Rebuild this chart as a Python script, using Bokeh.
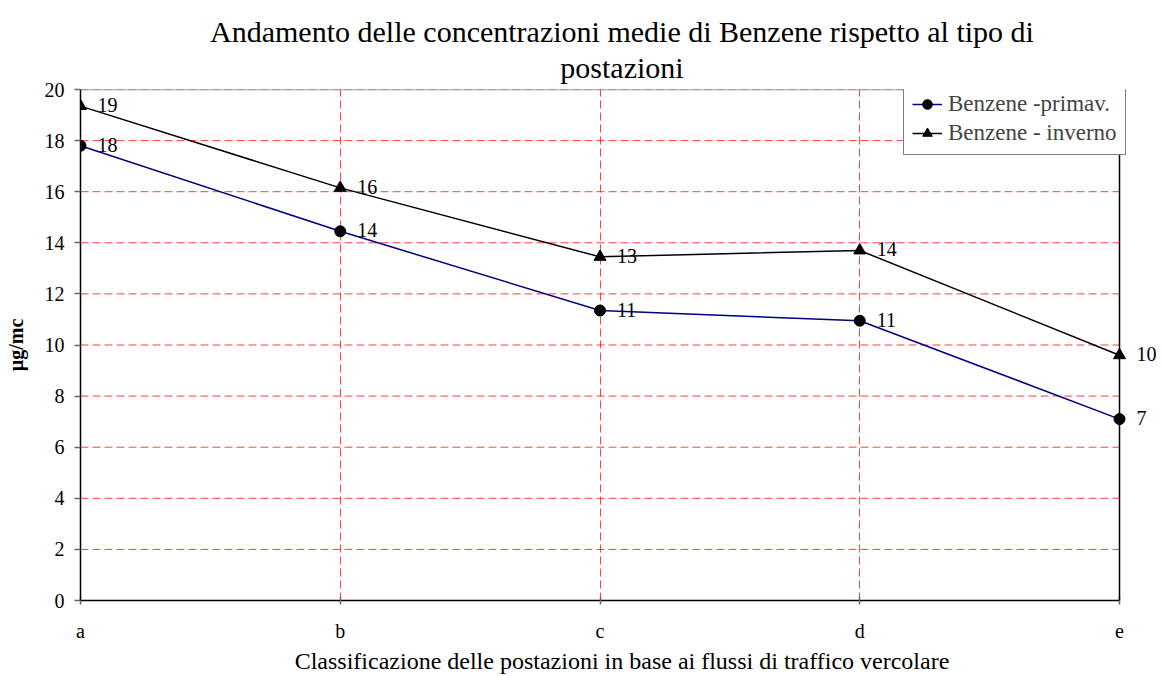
from bokeh.plotting import figure
from bokeh.models import (Range1d, FixedTicker, Span, Title, Legend, LegendItem,
                          LabelSet, ColumnDataSource)
from bokeh.embed import file_html
from bokeh.resources import INLINE

categories = ["a", "b", "c", "d", "e"]
primav = [17.8, 14.45, 11.35, 10.95, 7.1]
inverno = [19.35, 16.15, 13.45, 13.7, 9.6]
primav_labels = ["18", "14", "11", "11", "7"]
inverno_labels = ["19", "16", "13", "14", "10"]
y_ticks = [0, 2, 4, 6, 8, 10, 12, 14, 16, 18, 20]
title_line1 = "Andamento delle concentrazioni medie di Benzene rispetto al tipo di"
title_line2 = "postazioni"
x_label = "Classificazione delle postazioni in base ai flussi di traffico vercolare"
y_label = "µg/mc"

FONT = "Liberation Serif"
xs = list(range(len(categories)))
x_last = len(categories) - 1
# extra room to the right of the last category, so the value labels are not clipped
x_pad = 44 / 259.75

p = figure(width=1163, height=676, output_backend="svg", toolbar_location=None,
           x_range=Range1d(0, x_last + x_pad), y_range=Range1d(0, 20),
           min_border_left=80, min_border_right=0, min_border_top=89,
           min_border_bottom=76)
p.outline_line_color = None
p.background_fill_color = "white"

# two-line title
p.title = None
p.add_layout(Title(text=title_line1 + "\n" + title_line2, align="center",
                   text_align="center", text_font=FONT,
                   text_font_size="30px", text_font_style="normal",
                   text_line_height=1.1,
                   text_color="black", standoff=10), "above")

# axes
p.xaxis.ticker = FixedTicker(ticks=xs)
p.xaxis.bounds = (0, x_last)
p.xaxis.major_label_overrides = {i: c for i, c in enumerate(categories)}
p.yaxis.ticker = FixedTicker(ticks=y_ticks)
for ax in (p.xaxis[0], p.yaxis[0]):
    ax.axis_line_color = "black"
    ax.axis_line_width = 1.5
    ax.major_tick_line_color = "#666666"
    ax.major_tick_line_width = 1.5
    ax.minor_tick_line_color = None
    ax.major_label_text_font = FONT
    ax.major_label_text_font_size = "20px"
    ax.major_label_text_color = "black"
    ax.axis_label_text_font = FONT
    ax.axis_label_text_color = "black"
p.xaxis.major_tick_in = 4
p.xaxis.major_tick_out = 4
p.xaxis.major_label_standoff = 15
p.xaxis.axis_label = x_label
p.xaxis.axis_label_text_font_size = "24px"
p.xaxis.axis_label_text_font_style = "normal"
p.xaxis.axis_label_standoff = 3
p.yaxis.major_tick_in = 0
p.yaxis.major_tick_out = 6
p.yaxis.major_label_standoff = 10
p.yaxis.axis_label = y_label
p.yaxis.axis_label_text_font_size = "20px"
p.yaxis.axis_label_text_font_style = "bold"
p.yaxis.axis_label_standoff = 15

# grid: vertical via the grid object, horizontal as segments limited to a..e
p.xgrid.ticker = FixedTicker(ticks=xs)
p.xgrid.grid_line_color = "#ff2020"
p.xgrid.grid_line_alpha = 0.85
p.xgrid.grid_line_dash = "8 4"
p.ygrid.visible = False

grid_src = ColumnDataSource(dict(x0=[0] * len(y_ticks), x1=[x_last] * len(y_ticks),
                                 y=y_ticks))
p.segment(x0="x0", y0="y", x1="x1", y1="y", source=grid_src,
          line_color="#ff2020", line_alpha=0.85, line_dash="8 4", line_width=1)
p.segment(x0=[0], y0=[y_ticks[-1]], x1=[x_last], y1=[y_ticks[-1]],
          line_color="#808080", line_width=1.5)
p.add_layout(Span(location=x_last, dimension="height",
                  line_color="black", line_width=1.5))

src = ColumnDataSource(dict(x=xs, primav=primav, inverno=inverno,
                            pl=primav_labels, il=inverno_labels))

l1 = p.line("x", "primav", source=src, line_color="#000080", line_width=1.5)
m1 = p.scatter("x", "primav", source=src, marker="circle", size=11,
               fill_color="black", line_color="black")
l2 = p.line("x", "inverno", source=src, line_color="black", line_width=1.5)
m2 = p.scatter("x", "inverno", source=src, marker="triangle", size=12,
               fill_color="black", line_color="black")

for col, lab in (("primav", "pl"), ("inverno", "il")):
    p.add_layout(LabelSet(x="x", y=col, text=lab, source=src, x_offset=17, y_offset=1,
                          text_baseline="middle", text_align="left",
                          text_font=FONT, text_font_size="20px", text_color="black"))

legend = Legend(items=[LegendItem(label="Benzene -primav.", renderers=[l1, m1]),
                       LegendItem(label="Benzene - inverno", renderers=[l2, m2])],
                location=(823, 445), border_line_color="black", border_line_width=1,
                background_fill_color="white", background_fill_alpha=1,
                label_text_font=FONT, label_text_font_size="23px",
                glyph_width=30, glyph_height=24, label_height=24, spacing=3,
                padding=8, margin=0, label_standoff=6)
p.add_layout(legend)

open("out.html", "w").write(file_html(p, INLINE))
